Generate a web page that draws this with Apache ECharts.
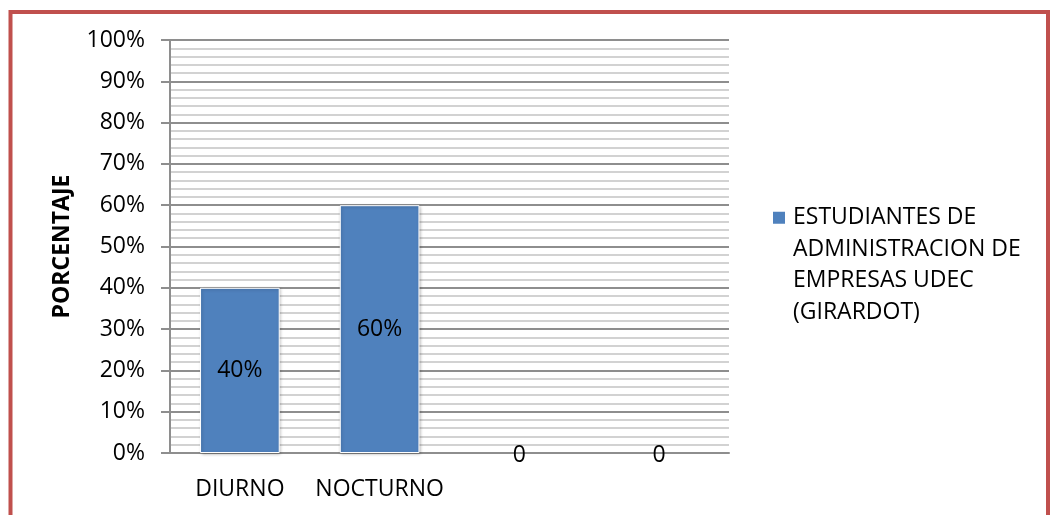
<!DOCTYPE html>
<html>
<head>
<meta charset="utf-8">
<script src="https://cdn.jsdelivr.net/npm/echarts@6/dist/echarts.min.js"></script>
<style>
html,body{margin:0;padding:0;background:#fff;}
#c{width:1050px;height:515px;}
</style>
</head>
<body>
<div id="c"></div>
<script>
var categories = ['DIURNO', 'NOCTURNO', '', ''];
var values = [40, 60, 0, 0];
var seriesName = 'ESTUDIANTES DE\nADMINISTRACION DE\nEMPRESAS UDEC\n(GIRARDOT)';
var yTicks = [0, 10, 20, 30, 40, 50, 60, 70, 80, 90, 100];
var yAxisName = 'PORCENTAJE';

var FONT = 'Open Sans';
var FS = 23;
var LH = 31.5;
// legend icon: a 12x12 square aligned with the first text line, inside a taller/wider invisible box
var iconTop = LH / 2 - 6;
var boxH = LH * 4;
var boxW = 15;
var legendIcon = 'path://M0,' + iconTop + 'L12,' + iconTop + 'L12,' + (iconTop + 12) + 'L0,' + (iconTop + 12) + 'Z' +
  'M0,0L0.01,0L0.01,0.01Z' +
  'M' + boxW + ',' + boxH + 'L' + (boxW - 0.01) + ',' + boxH + 'L' + (boxW - 0.01) + ',' + (boxH - 0.01) + 'Z';

var barData = values.map(function (v) {
  return v === 0
    ? { value: v, itemStyle: { borderWidth: 0, shadowBlur: 0, shadowOffsetX: 0, shadowOffsetY: 0, shadowColor: 'transparent' },
        label: { offset: [0, 2] } }
    : { value: v };
});

var chart = echarts.init(document.getElementById('c'));
chart.setOption({
  backgroundColor: '#ffffff',
  animation: false,
  textStyle: { fontFamily: FONT },
  graphic: [{
    type: 'rect',
    shape: { x: 10.5, y: 12, width: 1037.5, height: 530 },
    style: { fill: 'none', stroke: '#C0504D', lineWidth: 4 },
    silent: true, z: -1
  }],
  grid: { left: 170, right: 321, top: 40, bottom: 62, containLabel: false },
  legend: {
    show: true,
    left: 773,
    top: 202,
    padding: 0,
    orient: 'vertical',
    itemWidth: boxW,
    itemHeight: boxH,
    itemGap: 8,
    icon: legendIcon,
    data: [seriesName],
    itemStyle: { borderWidth: 0, shadowBlur: 0, shadowColor: 'transparent' },
    textStyle: { fontFamily: FONT, fontSize: FS, color: '#000', lineHeight: LH }
  },
  xAxis: {
    type: 'category',
    data: categories,
    axisLine: { show: true, lineStyle: { color: '#8E8E8E', width: 2 } },
    axisTick: { show: false },
    axisLabel: { color: '#000', fontFamily: FONT, fontSize: FS, margin: 25, interval: 0 },
    splitLine: { show: false }
  },
  yAxis: {
    type: 'value',
    min: 0, max: 100, interval: 10,
    name: yAxisName,
    nameLocation: 'middle',
    nameGap: 96,
    nameRotate: 90,
    nameTextStyle: { color: '#000', fontFamily: FONT, fontSize: FS, fontWeight: 'bold' },
    axisLine: { show: true, lineStyle: { color: '#8E8E8E', width: 2 } },
    axisTick: { show: true, inside: false, length: 9, lineStyle: { color: '#8E8E8E', width: 2 } },
    axisLabel: {
      color: '#000', fontFamily: FONT, fontSize: FS, margin: 25,
      formatter: function (v) { return yTicks.indexOf(v) >= 0 ? v + '%' : ''; }
    },
    splitLine: { show: true, lineStyle: { color: '#8E8E8E', width: 2 } },
    minorTick: { show: false, splitNumber: 5 },
    minorSplitLine: { show: true, lineStyle: { color: '#C3C3C3', width: 1.6 } }
  },
  series: [{
    name: seriesName,
    type: 'bar',
    data: barData,
    barWidth: '57%',
    itemStyle: {
      color: '#4F81BD',
      borderColor: '#ffffff',
      borderWidth: 1,
      shadowBlur: 3,
      shadowColor: 'rgba(0,0,0,0.25)',
      shadowOffsetX: 1,
      shadowOffsetY: 1
    },
    label: {
      show: true,
      position: 'inside',
      color: '#000',
      fontFamily: FONT,
      fontSize: FS,
      formatter: function (p) { return p.value === 0 ? '0' : p.value + '%'; }
    }
  }]
});
</script>
</body>
</html>
